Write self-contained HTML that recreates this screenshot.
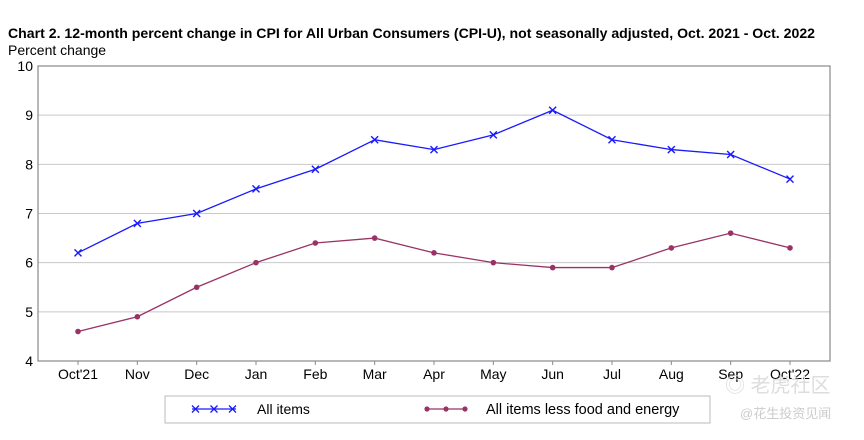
<!DOCTYPE html>
<html><head><meta charset="utf-8"><style>
body{margin:0;background:#fff;width:864px;height:435px;overflow:hidden;font-family:"Liberation Sans",Arial,sans-serif}
</style></head><body>
<svg id="c" width="864" height="435" xmlns="http://www.w3.org/2000/svg">
<text x="8" y="38" font-size="14.1" font-weight="bold" fill="#000" textLength="807">Chart 2. 12-month percent change in CPI for All Urban Consumers (CPI-U), not seasonally adjusted, Oct. 2021 - Oct. 2022</text>
<text x="8" y="55" font-size="14" fill="#000">Percent change</text>
<g id="grid"></g>
<rect x="38" y="66" width="792" height="295" fill="none" stroke="#888" stroke-width="1.2"/>
<g id="marks"></g>
<rect x="165" y="396" width="545" height="27" fill="#fff" stroke="#bbb"/>
<g>
<line x1="192" y1="409" x2="236" y2="409" stroke="#1a1aff" stroke-width="1.3"/>
<path d="M192,405.5L199,412.5M192,412.5L199,405.5M210.5,405.5L217.5,412.5M210.5,412.5L217.5,405.5M229,405.5L236,412.5M229,412.5L236,405.5" stroke="#1a1aff" stroke-width="1.3"/>
<text x="257" y="414" font-size="14" fill="#000">All items</text>
</g>
<g>
<line x1="425" y1="409" x2="467" y2="409" stroke="#993366" stroke-width="1.3"/>
<circle cx="427" cy="409" r="2.6" fill="#993366"/><circle cx="446" cy="409" r="2.6" fill="#993366"/><circle cx="465" cy="409" r="2.6" fill="#993366"/>
<text x="486" y="414" font-size="14.5" fill="#000">All items less food and energy</text>
</g>
<text x="725" y="392" font-size="20" fill="#ddd">◎ 老虎社区</text>
<text x="740" y="418" font-size="13" fill="#ccc">@花生投资见闻</text>
</svg>
<script>
const categories=["Oct'21","Nov","Dec","Jan","Feb","Mar","Apr","May","Jun","Jul","Aug","Sep","Oct'22"];
const allItems=[6.2,6.8,7.0,7.5,7.9,8.5,8.3,8.6,9.1,8.5,8.3,8.2,7.7];
const coreItems=[4.6,4.9,5.5,6.0,6.4,6.5,6.2,6.0,5.9,5.9,6.3,6.6,6.3];
const yTicks=[4,5,6,7,8,9,10];
const NS="http://www.w3.org/2000/svg";
const L=38,R=830,T=66,B=361,yMin=4,yMax=10,PAD=40;
const step=(R-L-2*PAD)/(categories.length-1);
const xs=i=>L+PAD+step*i;
const ys=v=>B-(v-yMin)/(yMax-yMin)*(B-T);
function mk(t,a,p){const e=document.createElementNS(NS,t);for(const k in a)e.setAttribute(k,a[k]);p.appendChild(e);return e;}
const grid=document.getElementById('grid'),marks=document.getElementById('marks');
yTicks.forEach(v=>{
 if(v>yMin&&v<yMax){const g=mk('line',{x1:L,x2:R,y1:ys(v),y2:ys(v),stroke:'#c8c8c8','stroke-width':1},grid);
 
 }
 const t=mk('text',{x:L-5,y:ys(v)+5,'font-size':14,'text-anchor':'end',fill:'#000'},grid);t.textContent=v;
 
 
});
categories.forEach((c,i)=>{
 mk('line',{x1:xs(i),x2:xs(i),y1:B,y2:B+4,stroke:'#888'},grid);
 const t=mk('text',{x:xs(i),y:B+18,'font-size':14,'text-anchor':'middle',fill:'#000'},grid);t.textContent=c;
 
 
});
function series(d,col,name,cross){
 const p=mk('polyline',{points:d.map((v,i)=>xs(i)+','+ys(v)).join(' '),fill:'none',stroke:col,'stroke-width':1.3},marks);
 
 
 d.forEach((v,i)=>{
  const x=xs(i),y=ys(v);let m;
  if(cross){m=mk('path',{d:`M${x-3.5},${y-3.5}L${x+3.5},${y+3.5}M${x-3.5},${y+3.5}L${x+3.5},${y-3.5}`,stroke:col,'stroke-width':1.4,fill:'none'},marks);}
  else{m=mk('circle',{cx:x,cy:y,r:2.8,fill:col},marks);}
  
  
 });
}
series(allItems,'#1a1aff','all-items',true);
series(coreItems,'#993366','core-items',false);
</script>
</body></html>
